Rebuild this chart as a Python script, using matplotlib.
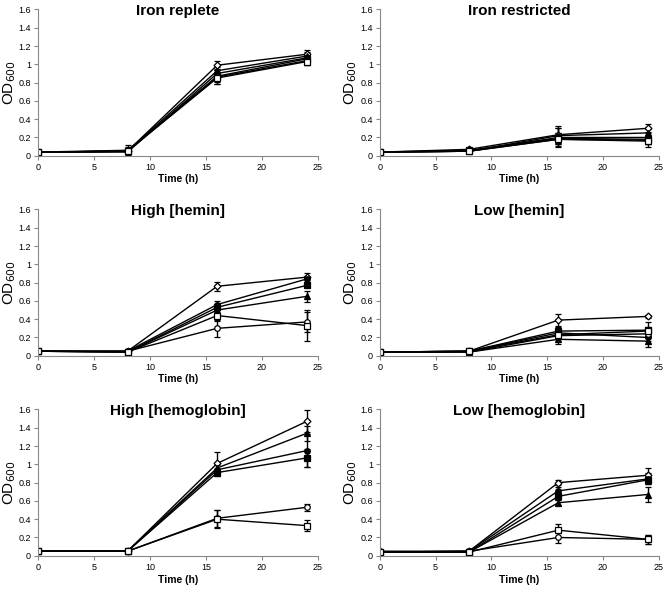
import matplotlib
matplotlib.use("Agg")
import matplotlib.pyplot as plt
import numpy as np

plt.rcParams['font.family'] = ['Liberation Sans', 'DejaVu Sans']

time = [0, 8, 16, 24]
titles = ["Iron replete", "Iron restricted", "High [hemin]", "Low [hemin]",
          "High [hemoglobin]", "Low [hemoglobin]"]

# marker style per strain: (marker, filled)
strains = [("D", False), ("^", True), ("o", True), ("s", True), ("o", False), ("s", False)]

# OD600 values per panel, one row per strain
iron_replete = [[0.04, 0.05, 0.99, 1.11],
                [0.04, 0.05, 0.93, 1.09],
                [0.04, 0.04, 0.90, 1.07],
                [0.04, 0.05, 0.87, 1.06],
                [0.04, 0.06, 0.86, 1.04],
                [0.04, 0.05, 0.85, 1.03]]
iron_replete_err = [[0.01, 0.05, 0.05, 0.05], [0.01, 0.03, 0.04, 0.04],
                    [0.01, 0.03, 0.04, 0.03], [0.01, 0.03, 0.08, 0.04],
                    [0.01, 0.06, 0.08, 0.05], [0.01, 0.03, 0.04, 0.04]]

iron_restricted = [[0.04, 0.07, 0.23, 0.30],
                   [0.04, 0.05, 0.22, 0.25],
                   [0.04, 0.05, 0.20, 0.20],
                   [0.04, 0.06, 0.19, 0.18],
                   [0.04, 0.05, 0.18, 0.17],
                   [0.04, 0.05, 0.18, 0.16]]
iron_restricted_err = [[0.01, 0.02, 0.09, 0.05], [0.01, 0.02, 0.08, 0.04],
                       [0.01, 0.02, 0.10, 0.06], [0.01, 0.02, 0.06, 0.05],
                       [0.01, 0.02, 0.05, 0.04], [0.01, 0.02, 0.07, 0.06]]

high_hemin = [[0.05, 0.05, 0.76, 0.86],
              [0.05, 0.04, 0.50, 0.65],
              [0.05, 0.05, 0.56, 0.84],
              [0.05, 0.04, 0.53, 0.77],
              [0.05, 0.05, 0.30, 0.37],
              [0.05, 0.04, 0.44, 0.33]]
high_hemin_err = [[0.01, 0.01, 0.05, 0.05], [0.01, 0.01, 0.04, 0.06],
                  [0.01, 0.01, 0.04, 0.03], [0.01, 0.01, 0.03, 0.02],
                  [0.01, 0.01, 0.09, 0.11], [0.01, 0.01, 0.06, 0.17]]

low_hemin = [[0.04, 0.05, 0.39, 0.43],
             [0.04, 0.04, 0.18, 0.16],
             [0.04, 0.05, 0.25, 0.20],
             [0.04, 0.05, 0.27, 0.28],
             [0.04, 0.04, 0.22, 0.24],
             [0.04, 0.05, 0.23, 0.27]]
low_hemin_err = [[0.01, 0.01, 0.07, 0.02], [0.01, 0.01, 0.05, 0.06],
                 [0.01, 0.01, 0.05, 0.04], [0.01, 0.01, 0.06, 0.09],
                 [0.01, 0.01, 0.04, 0.04], [0.01, 0.01, 0.05, 0.05]]

high_hb = [[0.05, 0.05, 1.01, 1.47],
           [0.05, 0.05, 0.96, 1.34],
           [0.05, 0.05, 0.94, 1.15],
           [0.05, 0.05, 0.91, 1.07],
           [0.05, 0.05, 0.41, 0.53],
           [0.05, 0.05, 0.40, 0.33]]
high_hb_err = [[0.01, 0.01, 0.12, 0.12], [0.01, 0.01, 0.05, 0.08],
               [0.01, 0.01, 0.05, 0.18], [0.01, 0.01, 0.04, 0.10],
               [0.01, 0.01, 0.09, 0.04], [0.01, 0.01, 0.10, 0.06]]

low_hb = [[0.05, 0.05, 0.80, 0.88],
          [0.04, 0.04, 0.58, 0.67],
          [0.04, 0.05, 0.71, 0.84],
          [0.04, 0.04, 0.65, 0.83],
          [0.04, 0.05, 0.20, 0.18],
          [0.04, 0.04, 0.28, 0.18]]
low_hb_err = [[0.01, 0.01, 0.03, 0.08], [0.01, 0.01, 0.03, 0.08],
              [0.01, 0.01, 0.04, 0.06], [0.01, 0.01, 0.04, 0.05],
              [0.01, 0.01, 0.06, 0.05], [0.01, 0.01, 0.07, 0.05]]

panels = [(iron_replete, iron_replete_err), (iron_restricted, iron_restricted_err),
          (high_hemin, high_hemin_err), (low_hemin, low_hemin_err),
          (high_hb, high_hb_err), (low_hb, low_hb_err)]

fig = plt.figure(figsize=(6.64, 5.90), dpi=100)

lefts = [0.057, 0.572]
widths = [0.422, 0.42]
bottoms = [0.736, 0.397, 0.058]
height = 0.248
label_x = [-0.072, -0.074]

for i, (vals, errs) in enumerate(panels):
    row, col = divmod(i, 2)
    ax = fig.add_axes([lefts[col], bottoms[row], widths[col], height])
    for (mk, filled), y, e in zip(strains, vals, errs):
        ax.errorbar(time, y, yerr=e, color='black', lw=1, marker=mk,
                    ms=4 if mk != "D" else 3.5, mfc='black' if filled else 'white',
                    mec='black', mew=0.9, capsize=2.5, elinewidth=1, capthick=1)
    ax.set_xlim(0, 25)
    ax.set_ylim(0, 1.6)
    ax.set_xticks([0, 5, 10, 15, 20, 25])
    ax.set_yticks(np.arange(0, 1.61, 0.2))
    ax.set_yticklabels(["0", "0.2", "0.4", "0.6", "0.8", "1", "1.2", "1.4", "1.6"])
    ax.spines['top'].set_visible(False)
    ax.spines['right'].set_visible(False)
    ax.spines['left'].set_color('#888888')
    ax.spines['bottom'].set_color('#888888')
    ax.tick_params(labelsize=6.5, length=3, width=0.8, color='#888888', pad=2)
    ax.set_xlabel("Time (h)", fontsize=7.5, fontweight='bold', labelpad=2)
    ax.set_ylabel("OD$_{600}$", fontsize=11)
    ax.yaxis.set_label_coords(label_x[col], 0.5)
    ax.text(0.5, 0.99, titles[i], transform=ax.transAxes, ha='center', va='center',
            fontsize=11, fontweight='bold')

fig.savefig("out.png", dpi=100)
